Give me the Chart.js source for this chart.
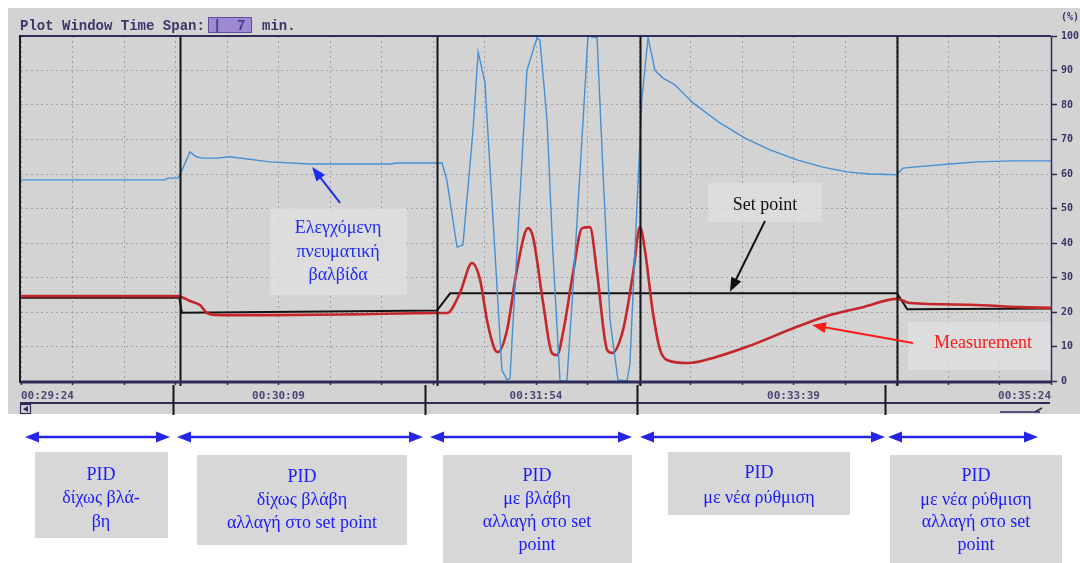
<!DOCTYPE html>
<html>
<head>
<meta charset="utf-8">
<script src="https://cdn.jsdelivr.net/npm/chart.js@4.4.1/dist/chart.umd.min.js"></script>
<style>
  html, body { margin: 0; padding: 0; background: #ffffff; }
  canvas { display: block; }
</style>
</head>
<body>
<canvas id="trend" width="1080" height="563"></canvas>
<script>
// Trend window: 7 minutes, x in seconds from the left edge of the window
const timeLabels = ['00:29:24', '00:30:09', '00:31:54', '00:33:39', '00:35:24'];

// Controlled pneumatic valve opening (%)
const valveT = [0, 58.7, 60, 64, 65.6, 68.9, 71.4, 74.2, 79.9, 85.2, 101.5, 117.8, 150.5, 153.3, 171.7, 173.7, 177.8, 180.2, 184.3, 186.4,
  189.2, 196.1, 198.2, 199.4, 201.4, 206.3, 210.4, 211.6, 214.5, 216.9, 219.8, 222.6, 225.1, 229.2, 231.2, 234.9, 237.3, 240.2, 243.4, 247.1,
  248.3, 250.8, 253.2, 255.7, 258.5, 261.8, 266.7, 274.0, 285.0, 295.2, 305.4, 316.4, 327.0, 336.8, 346.2, 357.2, 359.6, 363.7, 378.8, 389.8,
  404.5, 420];
const valveV = [58.3, 58.3, 58.8, 58.8, 61, 66.4, 65, 64.6, 64.6, 65, 63.5, 62.9, 62.9, 63.2, 63.2, 58, 38.8, 39.4, 72.5, 95.4,
  86.4, 3.2, 0.3, 0.8, 27, 90, 99.5, 98.8, 75.6, 37, 0, 0, 27, 75.6, 100, 99.5, 61, 17.7, 0.3, 0,
  5, 45, 82, 99.5, 90, 87.8, 85.8, 80.6, 74.8, 70.4, 67, 64.1, 62, 60.6, 60, 59.8, 61.7, 62, 62.9, 63.5,
  63.8, 63.8];

// Measurement (%)
const measT = [0, 64, 65.6, 68.9, 73, 75.8, 81.1, 101.5, 134.2, 169.6, 173.7, 179, 183.9, 187.2, 190, 193.3, 194.5, 198.2, 202.2, 206.7,
  208.8, 212.9, 216.5, 218.6, 221, 225.1, 228.8, 232, 234.9, 239, 241, 245.5, 249.6, 252.4, 254.4, 257.7, 260.6, 263.4, 272, 282.2,
  296, 316.4, 329.9, 343.3, 357.2, 362.5, 387, 407.4, 420];
const measV = [24.6, 24.6, 24.3, 23.2, 22, 19.7, 19.1, 19.1, 19.3, 19.7, 19.7, 25.5, 34.2, 29.3, 17.7, 9, 8.4, 14.8, 32.2, 44.3,
  41.7, 22.6, 8.1, 7.5, 13.9, 31.3, 44.3, 44.6, 31.3, 9, 8.1, 14.8, 31.3, 44.6, 38, 19.7, 9, 6.1, 5.2, 6.7,
  9.9, 15.7, 19.1, 21.4, 23.8, 22.6, 22.1, 21.4, 21.2];

// Set point (%)
const spT = [0, 64.6, 65.6, 169.6, 175, 357.2, 361.4, 420];
const spV = [24.1, 24.1, 19.8, 20.4, 25.4, 25.4, 20.8, 21];

// Instants where the operating condition was changed
const eventT = [64.8, 169.6, 252.4, 357.2];

const pts = (ts, vs) => ts.map((t, i) => ({ x: t, y: vs[i] }));

// Call-outs inside the plot, given in axis units: box [t0, t1, v0, v1], text centre, arrow tail -> head
const plotNotes = [
  { box: [101.5, 157.4, 24.9, 50.1], t: 129.3, v: [44.3, 37.4, 30.7],
    lines: ['Ελεγχόμενη', 'πνευματική', 'βαλβίδα'], color: '#1f2cf0', arrow: [[130.1, 51.6], [118.7, 62.0]] },
  { box: [280.1, 326.6, 46.1, 57.4], t: 303.4, v: [51],
    lines: ['Set point'], color: '#111111', arrow: [[303.4, 46.4], [289.1, 25.9]] },
  { box: [361.7, 420.4, 3.2, 17.1], t: 392.3, v: [11],
    lines: ['Measurement'], color: '#ff1a1a', arrow: [[363.7, 11], [322.5, 16.2]] }
];

// Stage captions under the trend (pixel layout of the page below the plot)
const stages = [
  { span: [25, 170], box: [35, 452, 168, 538], cx: 101, ys: [475, 498, 522], lines: ['PID', 'δίχως βλά-', 'βη'] },
  { span: [177, 423], box: [197, 455, 407, 545], cx: 302, ys: [477, 500, 523], lines: ['PID', 'δίχως βλάβη', 'αλλαγή στο set point'] },
  { span: [430, 632], box: [443, 455, 632, 563], cx: 537, ys: [476, 499, 522, 545], lines: ['PID', 'με βλάβη', 'αλλαγή στο set', 'point'] },
  { span: [640, 885], box: [668, 452, 850, 515], cx: 759, ys: [473, 498], lines: ['PID', 'με νέα ρύθμιση'] },
  { span: [888, 1038], box: [890, 455, 1062, 563], cx: 976, ys: [476, 500, 522, 545], lines: ['PID', 'με νέα ρύθμιση', 'αλλαγή στο set', 'point'] }
];
const stageDividers = [173, 425, 637, 885];

function arrowHead(c, x1, y1, x2, y2, len, half) {
  const a = Math.atan2(y2 - y1, x2 - x1);
  const bx = x2 - len * Math.cos(a), by = y2 - len * Math.sin(a);
  c.beginPath();
  c.moveTo(x2, y2);
  c.lineTo(bx + half * Math.sin(a), by - half * Math.cos(a));
  c.lineTo(bx - half * Math.sin(a), by + half * Math.cos(a));
  c.closePath();
  c.fill();
}

const NAVY = '#2e2d5a';
const GRID = 'rgba(80,80,96,0.38)';

const trendChrome = {
  id: 'trendChrome',
  beforeDraw(chart) {
    const c = chart.ctx;
    c.save();
    c.fillStyle = '#ffffff';
    c.fillRect(0, 0, chart.width, chart.height);
    c.fillStyle = '#d3d3d3';
    c.fillRect(8, 8, chart.width - 8, 406);
    c.restore();
  },
  beforeDatasetsDraw(chart) {
    const { x, y } = chart.scales;
    const c = chart.ctx;
    c.save();
    c.fillStyle = 'rgba(224,224,224,0.78)';
    plotNotes.forEach(n => {
      const l = x.getPixelForValue(n.box[0]), r = x.getPixelForValue(n.box[1]);
      const t = y.getPixelForValue(n.box[3]), b = y.getPixelForValue(n.box[2]);
      c.fillRect(l, t, r - l, b - t);
    });
    c.restore();
  },
  afterDatasetsDraw(chart) {
    const { x, y } = chart.scales;
    const c = chart.ctx;
    const area = chart.chartArea;
    c.save();

    // event markers
    c.strokeStyle = '#141414';
    c.lineWidth = 2;
    eventT.forEach(t => {
      const px = Math.round(x.getPixelForValue(t)) + 0.5;
      c.beginPath();
      c.moveTo(px, area.top);
      c.lineTo(px, area.bottom + 5);
      c.stroke();
    });

    // plot frame
    c.strokeStyle = NAVY;
    c.lineWidth = 2;
    c.beginPath(); c.moveTo(area.left - 1, area.top); c.lineTo(area.right, area.top); c.stroke();
    c.lineWidth = 3;
    c.beginPath(); c.moveTo(area.left - 1, area.bottom + 1); c.lineTo(area.right, area.bottom + 1); c.stroke();
    c.lineWidth = 1.5;
    c.beginPath(); c.moveTo(area.right + 0.5, area.top); c.lineTo(area.right + 0.5, area.bottom); c.stroke();
    c.strokeStyle = '#1c1c28';
    c.lineWidth = 2;
    c.beginPath(); c.moveTo(area.left - 1, area.top - 1); c.lineTo(area.left - 1, area.bottom + 2); c.stroke();

    // call-outs
    c.font = '18px "Liberation Serif", "DejaVu Serif", serif';
    c.textAlign = 'center';
    c.textBaseline = 'middle';
    plotNotes.forEach(n => {
      c.fillStyle = n.color;
      n.lines.forEach((s, i) => c.fillText(s, x.getPixelForValue(n.t), y.getPixelForValue(n.v[i])));
      const [a, b] = n.arrow;
      const x1 = x.getPixelForValue(a[0]), y1 = y.getPixelForValue(a[1]);
      const x2 = x.getPixelForValue(b[0]), y2 = y.getPixelForValue(b[1]);
      c.strokeStyle = n.color;
      c.lineWidth = 2;
      const ang = Math.atan2(y2 - y1, x2 - x1);
      c.beginPath();
      c.moveTo(x1, y1);
      c.lineTo(x2 - 10 * Math.cos(ang), y2 - 10 * Math.sin(ang));
      c.stroke();
      arrowHead(c, x1, y1, x2, y2, 14, 5.5);
    });

    // header
    c.textAlign = 'left';
    c.textBaseline = 'alphabetic';
    c.fillStyle = '#3b3568';
    c.font = 'bold 14px "Liberation Mono", "DejaVu Sans Mono", monospace';
    c.fillText('Plot Window Time Span:', 20, 30);
    c.fillStyle = '#9d8ad3';
    c.fillRect(208, 17, 44, 16);
    c.strokeStyle = '#5e4f98';
    c.lineWidth = 1;
    c.strokeRect(208.5, 17.5, 43, 15);
    c.fillStyle = '#4a3d82';
    c.fillText('|', 213, 30);
    c.fillText('7', 237, 30);
    c.fillStyle = '#3b3568';
    c.fillText('min.', 262, 30);

    // unit of the right axis
    c.font = 'bold 10px "DejaVu Sans Mono", monospace';
    c.fillStyle = '#38346a';
    c.fillText('(%)', 1061, 20);

    // scroll strip under the time labels
    c.strokeStyle = NAVY;
    c.lineWidth = 2;
    c.beginPath(); c.moveTo(20, 403); c.lineTo(1050, 403); c.stroke();
    c.lineWidth = 1.2;
    c.strokeRect(20.5, 404.5, 10, 9);
    c.fillStyle = NAVY;
    c.beginPath(); c.moveTo(23, 409); c.lineTo(28, 406); c.lineTo(28, 412); c.closePath(); c.fill();
    c.lineWidth = 1.5;
    c.beginPath(); c.moveTo(1000, 412); c.lineTo(1040, 412); c.stroke();
    c.beginPath(); c.moveTo(1035, 412); c.lineTo(1042, 408); c.stroke();

    // stage dividers, arrows and captions
    c.strokeStyle = '#141414';
    c.lineWidth = 2;
    stageDividers.forEach(px => {
      c.beginPath(); c.moveTo(px + 0.5, area.bottom + 4); c.lineTo(px + 0.5, 415); c.stroke();
    });

    c.strokeStyle = '#2626e6';
    c.fillStyle = '#2626e6';
    c.lineWidth = 2.5;
    stages.forEach(s => {
      const [a, b] = s.span;
      c.beginPath(); c.moveTo(a + 8, 437); c.lineTo(b - 8, 437); c.stroke();
      arrowHead(c, b - 20, 437, b, 437, 14, 5.5);
      arrowHead(c, a + 20, 437, a, 437, 14, 5.5);
    });

    c.font = '18px "Liberation Serif", "DejaVu Serif", serif';
    c.textAlign = 'center';
    c.textBaseline = 'middle';
    stages.forEach(s => {
      const [l, t, r, b] = s.box;
      c.fillStyle = '#d7d7d7';
      c.fillRect(l, t, r - l, b - t);
      c.fillStyle = '#1a1aff';
      s.lines.forEach((txt, i) => c.fillText(txt, s.cx, s.ys[i]));
    });

    c.restore();
  }
};

new Chart(document.getElementById('trend'), {
  type: 'line',
  data: {
    datasets: [
      { label: 'Valve', data: pts(valveT, valveV), borderColor: '#4590d4', borderWidth: 1.4, pointRadius: 0, tension: 0 },
      { label: 'Measurement', data: pts(measT, measV), borderColor: '#c4262a', borderWidth: 2.6, pointRadius: 0, cubicInterpolationMode: 'monotone' },
      { label: 'Set point', data: pts(spT, spV), borderColor: '#141414', borderWidth: 2, pointRadius: 0, tension: 0 }
    ]
  },
  options: {
    responsive: false,
    animation: false,
    devicePixelRatio: 1,
    layout: { padding: { left: 21, right: 0, top: 36, bottom: 157 } },
    plugins: { legend: { display: false }, tooltip: { enabled: false } },
    scales: {
      x: {
        type: 'linear', min: 0, max: 420,
        ticks: {
          stepSize: 21, autoSkip: false, maxRotation: 0, minRotation: 0, align: 'inner', padding: 5,
          color: '#4a4775', font: { family: 'DejaVu Sans Mono', size: 11, weight: 'bold' },
          callback: (v, i) => (i % 5 === 0 ? timeLabels[i / 5] : '')
        },
        grid: { color: GRID, lineWidth: 1, tickLength: 4, tickColor: NAVY, tickWidth: 1.5, tickBorderDash: [] },
        border: { display: false, dash: [2, 3] },
        afterFit(s) { s.height = 25; }
      },
      y: {
        type: 'linear', position: 'right', min: 0, max: 100,
        ticks: { stepSize: 10, padding: 4, color: '#38346a', font: { family: 'DejaVu Sans Mono', size: 10, weight: 'bold' } },
        grid: { color: GRID, lineWidth: 1, tickLength: 6, tickColor: NAVY, tickWidth: 1.5, tickBorderDash: [] },
        border: { display: false, dash: [2, 3] },
        afterFit(s) { s.width = 29; }
      }
    }
  },
  plugins: [trendChrome]
});
</script>
</body>
</html>
